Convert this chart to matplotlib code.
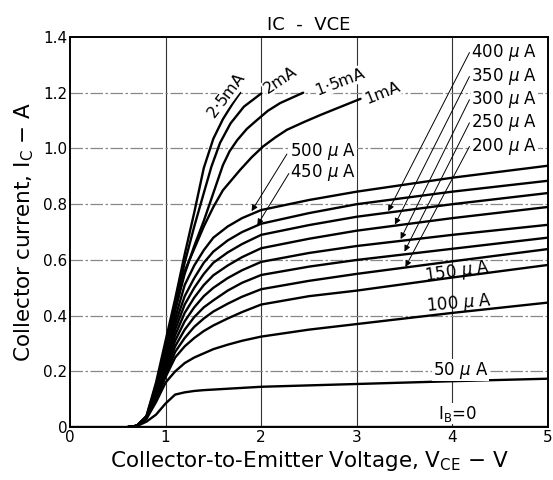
import numpy as np
import matplotlib.pyplot as plt

# Ic - Vce family
vce_family = [0.6, 0.7, 0.8, 0.9, 1.0, 1.1, 1.2, 1.3, 1.4, 1.5, 1.65, 1.8, 2.0, 2.5, 3.0, 4.0, 5.0]
ic_50ua = [0, 0.004, 0.02, 0.045, 0.085, 0.117, 0.125, 0.13, 0.133, 0.135, 0.138, 0.141, 0.145, 0.15, 0.155, 0.165, 0.174]
ic_100ua = [0, 0.005, 0.03, 0.09, 0.16, 0.2, 0.23, 0.25, 0.265, 0.28, 0.296, 0.31, 0.325, 0.35, 0.37, 0.41, 0.447]
ic_150ua = [0, 0.005, 0.032, 0.1, 0.18, 0.25, 0.29, 0.32, 0.345, 0.365, 0.39, 0.413, 0.44, 0.47, 0.49, 0.537, 0.582]
ic_200ua = [0, 0.005, 0.035, 0.11, 0.19, 0.27, 0.32, 0.36, 0.39, 0.415, 0.443, 0.468, 0.495, 0.525, 0.55, 0.595, 0.639]
ic_250ua = [0, 0.005, 0.035, 0.11, 0.2, 0.29, 0.35, 0.395, 0.43, 0.455, 0.49, 0.518, 0.546, 0.576, 0.6, 0.64, 0.68]
ic_300ua = [0, 0.005, 0.035, 0.11, 0.21, 0.31, 0.38, 0.43, 0.47, 0.5, 0.535, 0.563, 0.593, 0.625, 0.65, 0.69, 0.726]
ic_350ua = [0, 0.005, 0.035, 0.11, 0.22, 0.33, 0.41, 0.465, 0.51, 0.545, 0.58, 0.61, 0.642, 0.676, 0.705, 0.75, 0.79]
ic_400ua = [0, 0.005, 0.035, 0.11, 0.23, 0.35, 0.44, 0.5, 0.55, 0.59, 0.627, 0.657, 0.69, 0.725, 0.755, 0.8, 0.84]
ic_450ua = [0, 0.005, 0.035, 0.11, 0.24, 0.37, 0.47, 0.535, 0.59, 0.63, 0.67, 0.70, 0.73, 0.768, 0.8, 0.845, 0.884]
ic_500ua = [0, 0.005, 0.035, 0.11, 0.25, 0.39, 0.51, 0.58, 0.635, 0.68, 0.72, 0.75, 0.779, 0.815, 0.845, 0.895, 0.938]

vce_1ma = [0.6, 0.7, 0.8, 0.9, 1.0, 1.1, 1.2, 1.3, 1.4, 1.5, 1.6, 1.78, 1.9, 2.02, 2.15, 2.27, 2.45, 2.62, 2.8, 3.04]
ic_1ma = [0, 0.005, 0.037, 0.12, 0.26, 0.42, 0.56, 0.64, 0.72, 0.79, 0.85, 0.923, 0.968, 1.007, 1.04, 1.067, 1.095, 1.12, 1.145, 1.178]
vce_1p5ma = [0.6, 0.7, 0.8, 0.9, 1.0, 1.1, 1.2, 1.3, 1.4, 1.5, 1.6, 1.67, 1.75, 1.85, 1.95, 2.07, 2.2, 2.44]
ic_1p5ma = [0, 0.005, 0.038, 0.13, 0.27, 0.42, 0.55, 0.65, 0.74, 0.84, 0.94, 0.99, 1.03, 1.07, 1.1, 1.135, 1.163, 1.2]
vce_2ma = [0.6, 0.7, 0.8, 0.9, 1.0, 1.1, 1.2, 1.3, 1.4, 1.48, 1.57, 1.68, 1.82, 2.0]
ic_2ma = [0, 0.005, 0.04, 0.15, 0.29, 0.44, 0.59, 0.72, 0.84, 0.935, 1.02, 1.09, 1.15, 1.197]
vce_2p5ma = [0.6, 0.7, 0.8, 0.9, 1.0, 1.1, 1.2, 1.3, 1.4, 1.5, 1.6, 1.7, 1.78]
ic_2p5ma = [0, 0.005, 0.04, 0.16, 0.31, 0.46, 0.62, 0.77, 0.93, 1.035, 1.105, 1.16, 1.2]

vce_ib0 = [0, 5]
ic_ib0 = [0, 0]

plt.rcParams['font.family'] = 'DejaVu Sans'
fig = plt.figure(figsize=(5.53, 4.8), dpi=100)
ax = fig.add_axes([0.1266, 0.110, 0.864, 0.813])

curves = [(vce_family, ic_50ua), (vce_family, ic_100ua), (vce_family, ic_150ua),
          (vce_family, ic_200ua), (vce_family, ic_250ua), (vce_family, ic_300ua),
          (vce_family, ic_350ua), (vce_family, ic_400ua), (vce_family, ic_450ua),
          (vce_family, ic_500ua), (vce_1ma, ic_1ma), (vce_1p5ma, ic_1p5ma),
          (vce_2ma, ic_2ma), (vce_2p5ma, ic_2p5ma), (vce_ib0, ic_ib0)]
for xs, ys in curves:
    ax.plot(xs, ys, color='black', lw=1.7, solid_capstyle='round', solid_joinstyle='round', zorder=3)

ax.set_xlim(0, 5)
ax.set_ylim(0, 1.4)
ax.set_xticks([0, 1, 2, 3, 4, 5])
ax.set_yticks([0, 0.2, 0.4, 0.6, 0.8, 1.0, 1.2, 1.4])
ax.set_yticklabels(['0', '0.2', '0.4', '0.6', '0.8', '1.0', '1.2', '1.4'])
ax.tick_params(length=0, labelsize=11, pad=2)
for x in [1, 2, 3, 4]:
    ax.axvline(x, color='#333333', lw=0.8, zorder=1)
for y in [0.2, 0.4, 0.6, 0.8, 1.0, 1.2]:
    ax.axhline(y, color='#888888', lw=0.9, dashes=(10, 2, 2, 2), zorder=1)
for s in ax.spines.values():
    s.set_linewidth(1.4)

ax.set_xlabel('Collector-to-Emitter Voltage, V$_\\mathregular{CE}$ $-$ V', fontsize=15.5, labelpad=3)
ax.set_ylabel('Collector current, I$_\\mathregular{C}$ $-$ A', fontsize=15.5, labelpad=5)
ax.set_title('IC  -  VCE', fontsize=13, pad=5)

box = dict(facecolor='white', edgecolor='none', pad=0.5)

# rotated labels on the high-current curves
ax.text(1.64, 1.19, '2$\\cdot$5mA', rotation=53, fontsize=11.5, ha='center', va='center', bbox=box, zorder=4)
ax.text(2.2, 1.245, '2mA', rotation=34, fontsize=11.5, ha='center', va='center', bbox=box, zorder=4)
ax.text(2.83, 1.24, '1$\\cdot$5mA', rotation=21, fontsize=11.5, ha='center', va='center', bbox=box, zorder=4)
ax.text(3.27, 1.2, '1mA', rotation=22, fontsize=11.5, ha='center', va='center', bbox=box, zorder=4)

arrow = dict(arrowstyle='-|>', lw=0.7, color='black', shrinkA=0, shrinkB=0, mutation_scale=9)

# left pointers
ax.text(2.3, 0.99, '500 $\\mu$ A', fontsize=12, ha='left', va='center', bbox=box, zorder=4)
ax.annotate('', xy=(1.9, 0.775), xytext=(2.27, 0.98), arrowprops=arrow, zorder=4)
ax.text(2.3, 0.915, '450 $\\mu$ A', fontsize=12, ha='left', va='center', bbox=box, zorder=4)
ax.annotate('', xy=(1.96, 0.725), xytext=(2.29, 0.91), arrowprops=arrow, zorder=4)

# right pointers
right_lbl = ['400', '350', '300', '250', '200']
right_y = [1.344, 1.258, 1.175, 1.092, 1.007]
tips = [(3.33, 0.775), (3.40, 0.727), (3.46, 0.675), (3.50, 0.63), (3.51, 0.575)]
for lbl, y, tip in zip(right_lbl, right_y, tips):
    ax.text(4.2, y, lbl + ' $\\mu$ A', fontsize=12, ha='left', va='center', bbox=box, zorder=4)
    ax.annotate('', xy=tip, xytext=(4.18, y), arrowprops=arrow, zorder=4)

ax.text(4.05, 0.556, '150 $\\mu$ A', rotation=8, fontsize=12, ha='center', va='center', zorder=4)
ax.text(4.07, 0.445, '100 $\\mu$ A', rotation=5, fontsize=12, ha='center', va='center', zorder=4)
ax.text(4.09, 0.205, '50 $\\mu$ A', fontsize=12, ha='center', va='center', bbox=box, zorder=4)
ax.text(4.05, 0.048, 'I$_\\mathregular{B}$=0', fontsize=12, ha='center', va='center', bbox=box, zorder=4)

fig.savefig('out.png', dpi=100)
